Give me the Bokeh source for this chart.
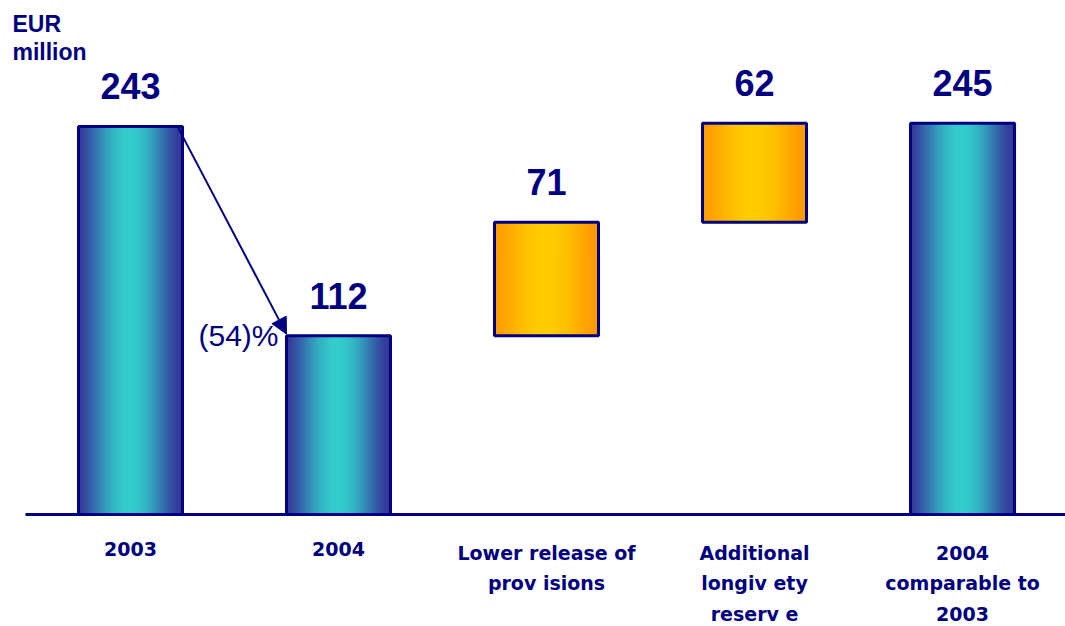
import numpy as np
from bokeh.plotting import figure
from bokeh.models import Range1d, Label, Arrow, NormalHead
from bokeh.core.properties import value
from bokeh.embed import file_html
from bokeh.resources import INLINE

# Waterfall: result 2003 -> 2004 and the items bridging to a comparable 2004
categories = ["2003", "2004", "Lower release of\nprov isions",
              "Additional\nlongiv ety\nreserv e", "2004\ncomparable to\n2003"]
amounts = [243, 112, 71, 62, 245]
kinds = ["total", "total", "step", "step", "total"]
unit_label = "EUR\nmillion"

NAVY = "#000080"
FONT = "Liberation Sans"

# bottoms / tops of each bar in the waterfall
bottoms, tops = [], []
running = 0
for amt, kind in zip(amounts, kinds):
    if kind == "total":
        bottoms.append(0)
        tops.append(amt)
        running = amt
    else:
        bottoms.append(running)
        tops.append(running + amt)
        running += amt

p = figure(width=1065, height=626, output_backend="svg", toolbar_location=None,
           x_range=Range1d(-0.625, 4.495), y_range=Range1d(-70.1, 321.9),
           min_border=0, outline_line_color=None)
p.axis.visible = False
p.grid.visible = False
p.background_fill_color = "white"
p.border_fill_color = "white"


def mix(c1, c2, f):
    a = np.array([int(c1[i:i + 2], 16) for i in (1, 3, 5)], float)
    b = np.array([int(c2[i:i + 2], 16) for i in (1, 3, 5)], float)
    c = a + (b - a) * f
    return "#%02x%02x%02x" % tuple(int(round(v)) for v in c)


# horizontal shading: each bar is filled with narrow overlapping strips
BAR_W = 0.5
N_STRIPS = 40
xs, ws, bs, ts, cs = [], [], [], [], []
for i, (b, t, kind) in enumerate(zip(bottoms, tops, kinds)):
    if kind == "total":
        edge, mid = "#35359a", "#33cccc"
    else:
        edge, mid = "#ff9900", "#ffcc00"
    sw = BAR_W / N_STRIPS
    for k in range(N_STRIPS):
        u = (k + 0.5) / N_STRIPS
        f = np.sin(np.pi * u) ** 1.4
        xs.append(i - BAR_W / 2 + (k + 0.5) * sw)
        ws.append(sw * 2.2 if 0 < k < N_STRIPS - 1 else sw)
        bs.append(b)
        ts.append(t)
        cs.append(mix(edge, mid, f))

p.vbar(x=xs, width=ws, bottom=bs, top=ts, fill_color=cs, line_color=None)

# outlines
p.vbar(x=list(range(len(amounts))), width=BAR_W, bottom=bottoms, top=tops,
       fill_alpha=0, line_color=NAVY, line_width=3)

# baseline
p.segment(x0=[-0.505], y0=[0], x1=[4.495], y1=[0], line_color=NAVY, line_width=3)

# value labels
p.text(x=list(range(len(amounts))), y=tops, text=[str(a) for a in amounts],
       text_font=value(FONT), text_font_style="bold", text_font_size="36px",
       text_color=NAVY, text_align="center", text_baseline="alphabetic",
       y_offset=-40)

# category labels
p.text(x=list(range(len(categories))), y=[0] * len(categories), text=categories,
       text_font=value("DejaVu Sans"), text_font_style="bold", text_font_size="19px",
       text_color=NAVY, text_align="center", text_baseline="top",
       y_offset=27, text_line_height=1.4)

# change 2003 -> 2004
change = (amounts[1] - amounts[0]) / amounts[0] * 100
p.add_layout(Arrow(end=NormalHead(size=16, fill_color=NAVY, line_color=NAVY),
                   x_start=0.23, y_start=tops[0] - 1, x_end=0.75, y_end=tops[1] + 1,
                   line_color=NAVY, line_width=2))
p.text(x=[1 - BAR_W / 2], y=[tops[1]], text=["(%d)%%" % round(abs(change))],
       text_font=value(FONT), text_font_size="30px", text_color=NAVY,
       text_align="right", text_baseline="middle", x_offset=-8)

p.add_layout(Label(x=12, y=616, x_units="screen", y_units="screen", text=unit_label,
                   text_font=FONT, text_font_style="bold", text_font_size="23px",
                   text_color=NAVY, text_baseline="top", text_line_height=1.1))

open("out.html", "w").write(file_html(p, INLINE))
